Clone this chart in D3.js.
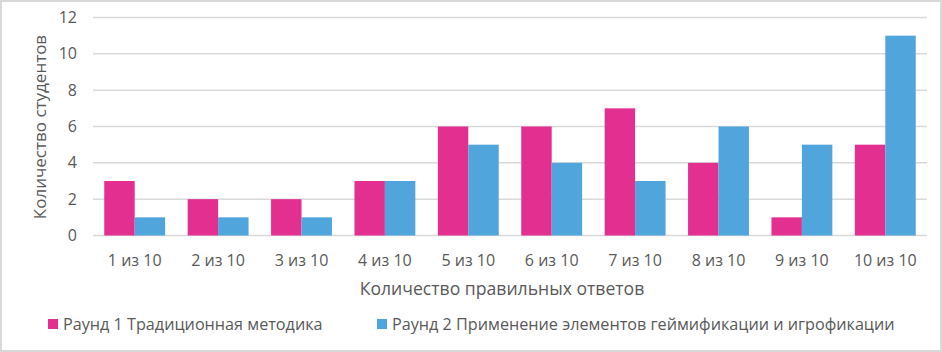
<!DOCTYPE html>
<html>
<head>
<meta charset="utf-8">
<script src="https://cdn.jsdelivr.net/npm/d3@7"></script>
<style>
  body { margin: 0; background: #fff; }
  svg text { font-family: "Open Sans", "Noto Sans", sans-serif; fill: #595959; }
</style>
</head>
<body>
<svg id="chart" width="942" height="352"></svg>
<script>
const categories = ['1 из 10', '2 из 10', '3 из 10', '4 из 10', '5 из 10', '6 из 10', '7 из 10', '8 из 10', '9 из 10', '10 из 10'];
const seriesNames = ['Раунд 1 Традиционная методика', 'Раунд 2 Применение элементов геймификации и игрофикации'];
const round1 = [3, 2, 2, 3, 6, 6, 7, 4, 1, 5];
const round2 = [1, 1, 1, 3, 5, 4, 3, 6, 5, 11];
const yTicks = [0, 2, 4, 6, 8, 10, 12];
const colors = ['#e32f8f', '#4fa5dc'];

const svg = d3.select('#chart');

// outer frame
svg.append('rect')
  .attr('x', 1).attr('y', 1)
  .attr('width', 940).attr('height', 350)
  .attr('fill', '#fff')
  .attr('stroke', '#d9d9d9')
  .attr('stroke-width', 2);

const plotLeft = 93, plotRight = 927, plotTop = 17.5, plotBottom = 235.5;

const x = d3.scaleBand()
  .domain(categories)
  .range([plotLeft, plotRight]);

const x1 = d3.scaleBand()
  .domain([0, 1])
  .range([0, x.bandwidth()])
  .paddingOuter(0.37)
  .paddingInner(0);

const y = d3.scaleLinear()
  .domain([0, 12])
  .range([plotBottom, plotTop]);

// gridlines
svg.append('g')
  .selectAll('line')
  .data(yTicks)
  .enter()
  .append('line')
  .attr('x1', plotLeft).attr('x2', plotRight)
  .attr('y1', d => y(d)).attr('y2', d => y(d))
  .attr('stroke', '#d9d9d9')
  .attr('stroke-width', 1.5);

// y tick labels
svg.append('g')
  .selectAll('text')
  .data(yTicks)
  .enter()
  .append('text')
  .attr('x', 77)
  .attr('y', d => y(d))
  .attr('dy', '0.35em')
  .attr('text-anchor', 'end')
  .style('font-size', '16px')
  .text(d => d);

// bars
const series = [round1, round2];
series.forEach((vals, si) => {
  svg.append('g')
    .selectAll('rect')
    .data(vals)
    .enter()
    .append('rect')
    .attr('x', (d, i) => x(categories[i]) + x1(si))
    .attr('y', d => y(d))
    .attr('width', x1.bandwidth())
    .attr('height', d => y(0) - y(d))
    .attr('fill', colors[si]);
});

// x labels
svg.append('g')
  .selectAll('text')
  .data(categories)
  .enter()
  .append('text')
  .attr('x', d => x(d) + x.bandwidth() / 2)
  .attr('y', 260)
  .attr('dy', '0.35em')
  .attr('text-anchor', 'middle')
  .style('font-size', '16px')
  .text(d => d);

// axis titles
svg.append('text')
  .attr('x', 502)
  .attr('y', 289)
  .attr('dy', '0.35em')
  .attr('text-anchor', 'middle')
  .style('font-size', '17.6px')
  .text('Количество правильных ответов');

svg.append('text')
  .attr('transform', 'translate(40,127) rotate(-90)')
  .attr('dy', '0.35em')
  .attr('text-anchor', 'middle')
  .style('font-size', '17px')
  .text('Количество студентов');

// legend
const legendX = [48, 377];
const legend = svg.append('g')
  .selectAll('g')
  .data(seriesNames)
  .enter()
  .append('g')
  .attr('transform', (d, i) => `translate(${legendX[i]},324)`);

legend.append('rect')
  .attr('x', 0).attr('y', -5)
  .attr('width', 10).attr('height', 10)
  .attr('fill', (d, i) => colors[i]);

legend.append('text')
  .attr('x', 15)
  .attr('dy', '0.35em')
  .style('font-size', '16.2px')
  .text(d => d);
</script>
</body>
</html>
